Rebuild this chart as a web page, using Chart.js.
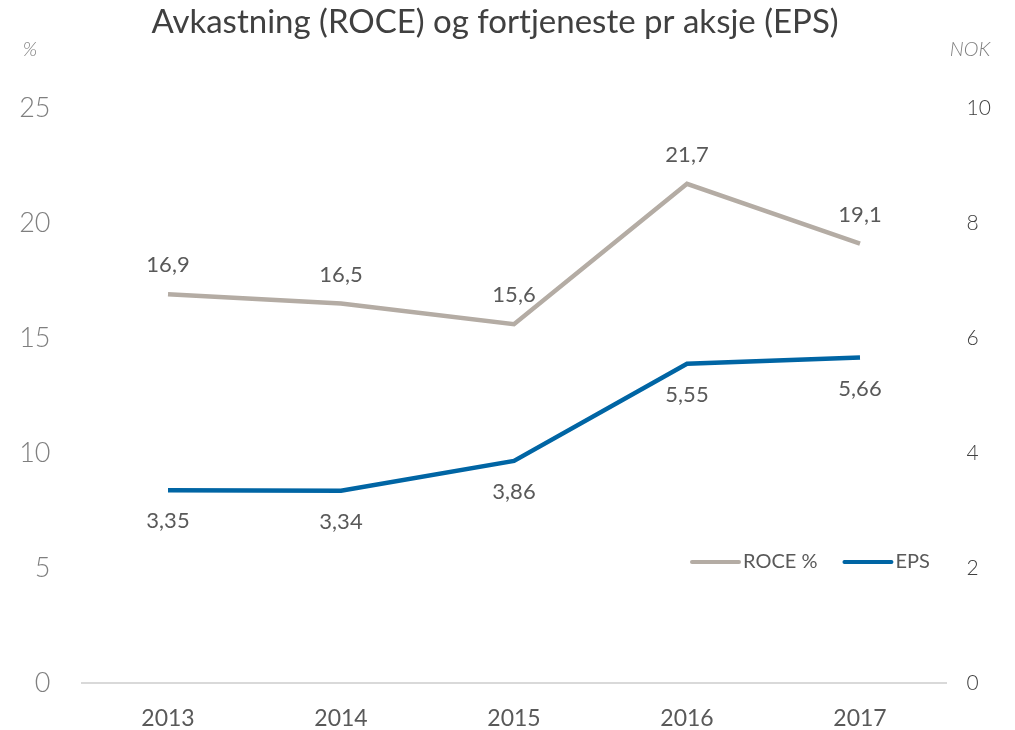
<!DOCTYPE html>
<html>
<head>
<meta charset="utf-8">
<script src="https://cdn.jsdelivr.net/npm/chart.js@4/dist/chart.umd.min.js"></script>
<style>
  html, body { margin: 0; padding: 0; background: #fff; }
  #wrap { width: 1015px; height: 730px; position: relative; }
</style>
</head>
<body>
<div id="wrap"><canvas id="chart"></canvas></div>
<script>
// data
const years = ["2013", "2014", "2015", "2016", "2017"]
const roce = [16.9, 16.5, 15.6, 21.7, 19.1]
const eps = [3.35, 3.34, 3.86, 5.55, 5.66]
const leftTicks = [0, 5, 10, 15, 20, 25]
const rightTicks = [0, 2, 4, 6, 8, 10]

const FONT = "Lato, 'Open Sans', sans-serif"

// norsk desimalkomma
const fmt = (v, d) => v.toFixed(d).replace(".", ",")

// title + unit labels + legend + data labels drawn on top
const decorPlugin = {
  id: "decor",
  afterDatasetsDraw(chart) {
    const ctx = chart.ctx
    ctx.save()

    ctx.fillStyle = "#404040"
    ctx.font = "33px " + FONT
    ctx.textAlign = "center"
    ctx.textBaseline = "middle"
    ctx.fillText("Avkastning (ROCE) og fortjeneste pr aksje (EPS)", 495, 22)

    ctx.fillStyle = "#7f7f7f"
    ctx.font = "italic 300 20px " + FONT
    ctx.fillText("%", 30, 50)
    ctx.fillText("NOK", 970, 50)

    // data labels
    ctx.font = "22px " + FONT
    ctx.fillStyle = "#595959"
    chart.data.datasets.forEach((ds, i) => {
      const meta = chart.getDatasetMeta(i)
      meta.data.forEach((pt, j) => {
        const dy = ds.labelPos === "above" ? -29 : 31
        ctx.fillText(fmt(ds.data[j], ds.decimals), pt.x, pt.y + dy)
      })
    })

    // legend inside the plot
    const legY = 562
    let x = 692
    ctx.textAlign = "left"
    ctx.font = "20px " + FONT
    chart.data.datasets.forEach(ds => {
      ctx.strokeStyle = ds.borderColor
      ctx.lineWidth = 4
      ctx.lineCap = "round"
      ctx.beginPath()
      ctx.moveTo(x, legY)
      ctx.lineTo(x + 47, legY)
      ctx.stroke()
      ctx.fillStyle = "#595959"
      ctx.fillText(ds.label, x + 51, legY)
      x += 51 + ctx.measureText(ds.label).width + 27
    })

    ctx.restore()
  }
}

const ctx = document.getElementById("chart").getContext("2d")
const chart = new Chart(ctx, {
  type: "line",
  data: {
    labels: years,
    datasets: [
      {
        label: "ROCE %",
        data: roce,
        yAxisID: "y",
        borderColor: "#b4aca4",
        borderWidth: 4.5,
        pointRadius: 0,
        tension: 0,
        decimals: 1,
        labelPos: "above"
      },
      {
        label: "EPS",
        data: eps,
        yAxisID: "y2",
        borderColor: "#0065a4",
        borderWidth: 4.5,
        pointRadius: 0,
        tension: 0,
        decimals: 2,
        labelPos: "below"
      }
    ]
  },
  options: {
    responsive: true,
    maintainAspectRatio: false,
    animation: false,
    layout: { padding: { top: 108, left: 0, right: 0, bottom: 0 } },
    plugins: {
      legend: { display: false },
      tooltip: { enabled: false },
      title: { display: false }
    },
    scales: {
      x: {
        offset: true,
        grid: { display: false, drawTicks: false },
        border: { display: true, color: "#d9d9d9", width: 2 },
        ticks: { color: "#595959", font: { family: FONT, size: 23 }, padding: 22 },
        afterFit(s) { s.height = 47 }
      },
      y: {
        position: "left",
        min: 0,
        max: 25,
        afterBuildTicks(s) { s.ticks = leftTicks.map(v => ({ value: v })) },
        grid: { display: false, drawTicks: false },
        border: { display: false },
        ticks: { color: "#7f7f7f", font: { family: FONT, size: 27, weight: "300" }, padding: 31 },
        afterFit(s) { s.width = 81.5 }
      },
      y2: {
        position: "right",
        min: 0,
        max: 10,
        afterBuildTicks(s) { s.ticks = rightTicks.map(v => ({ value: v })) },
        grid: { display: false, drawTicks: false },
        border: { display: false },
        ticks: { color: "#404040", font: { family: FONT, size: 21, weight: "300" }, padding: 20 },
        afterFit(s) { s.width = 68.5 }
      }
    }
  },
  plugins: [decorPlugin]
})
</script>
</body>
</html>
